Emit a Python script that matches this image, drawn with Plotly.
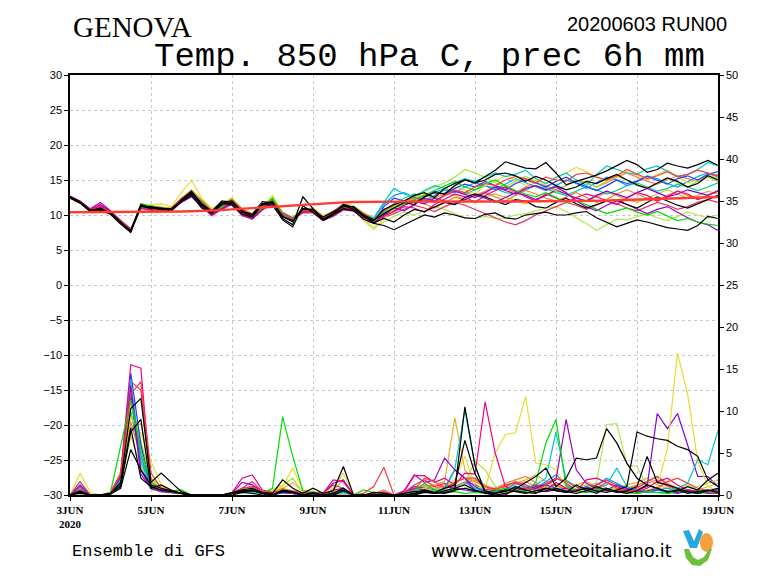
import pandas as pd
import plotly.graph_objects as go

# ---------------- data ----------------
times = pd.date_range("2020-06-03 00:00", periods=65, freq="6h")
tick_dates = ["2020-06-03", "2020-06-05", "2020-06-07", "2020-06-09", "2020-06-11",
              "2020-06-13", "2020-06-15", "2020-06-17", "2020-06-19"]
tick_labels = ["3JUN<br>2020", "5JUN", "7JUN", "9JUN", "11JUN", "13JUN", "15JUN", "17JUN", "19JUN"]
temp_ticks = [-30, -25, -20, -15, -10, -5, 0, 5, 10, 15, 20, 25, 30]
prec_ticks = [0, 5, 10, 15, 20, 25, 30, 35, 40, 45, 50]

# climatology 850 hPa temperature (thick red)
temp_clim = [10.40, 10.40, 10.41, 10.41, 10.42, 10.42, 10.43, 10.43, 10.44,
             10.46, 10.48, 10.50, 10.53, 10.57,
             10.62, 10.70, 10.80, 10.90, 11.00, 11.10, 11.20, 11.30,
             11.40, 11.50, 11.60, 11.68, 11.75, 11.80, 11.85,
             11.88, 11.89, 11.90, 11.90, 11.91, 11.91, 11.90, 11.90, 11.89, 11.89, 11.90,
             11.90, 11.91, 11.91, 11.92, 11.92, 11.93, 11.93, 11.94, 11.94, 11.95, 11.95,
             11.98, 12.02, 12.06, 12.10, 12.14, 12.18, 12.22, 12.26, 12.30, 12.35, 12.40,
             12.46, 12.52, 12.58]

# ensemble members: temperature 850 hPa (C), every 6 h
temp_black1 = [12.6, 11.9, 10.7, 10.8, 10.3, 8.9, 7.6, 11.4, 11.1, 10.8, 10.9, 12.1, 13.2, 11.5, 10.5, 11.7,
               12.0, 10.4, 9.9, 11.6, 11.8, 9.5, 8.6, 12.6, 10.9, 9.4, 10.2, 11.5, 11.1, 9.7, 9.2,
               10.8, 11.5, 12.0, 12.8, 13.2, 12.5, 13.8, 14.5, 15.0, 14.6, 15.5, 16.4, 17.6, 17.2, 16.7, 16.6,
               17.5, 16.0, 14.3, 14.8, 15.2, 15.7, 16.3, 17.0, 17.8, 17.2, 16.1, 16.5, 17.4, 17.0, 16.7, 17.2,
               17.8, 17.1]
temp_black2 = [12.4, 11.7, 10.5, 10.7, 10.1, 8.7, 7.5, 11.2, 11.2, 11.0, 10.7, 11.9, 12.8, 11.0, 10.2, 11.8,
               11.4, 10.1, 9.7, 11.5, 11.4, 9.3, 8.3, 11.3, 10.4, 9.2, 10.0, 10.9, 10.6, 9.4, 8.8,
               8.5, 7.9, 8.6, 9.4, 10.0, 9.7, 10.3, 10.0, 9.6, 9.5, 10.1, 10.3, 9.6, 9.4, 10.0, 10.2,
               10.4, 10.0, 10.0, 10.3, 10.5, 9.6, 8.9, 8.3, 8.8, 9.3, 9.0, 8.6, 8.2, 8.0, 7.8, 8.5,
               9.8, 9.5]
temp_black3 = [12.5, 11.8, 10.6, 11.0, 10.2, 8.9, 7.8, 11.5, 11.0, 10.8, 10.6, 12.2, 13.4, 11.6, 10.5, 12.0,
               11.8, 10.5, 10.1, 11.9, 11.7, 9.8, 9.0, 10.9, 10.7, 9.7, 10.4, 11.2, 11.2, 10.0, 9.3,
               10.2, 11.0, 11.8, 11.5, 12.6, 13.2, 13.0, 14.2, 15.0, 14.6, 15.0, 15.8, 16.0, 15.6, 14.8, 15.5,
               15.0, 14.2, 13.6, 14.0, 14.8, 14.5, 15.2, 15.8, 15.0, 14.3, 13.8, 14.6, 15.3, 14.8, 14.0, 14.5,
               15.6, 15.0]
temp_black4 = [12.6, 11.8, 10.5, 10.8, 10.3, 9.0, 7.7, 11.3, 10.9, 11.0, 10.8, 12.0, 13.1, 11.3, 10.3, 11.5,
               11.7, 10.6, 9.8, 11.6, 11.9, 9.7, 9.2, 10.8, 10.8, 9.3, 10.1, 11.4, 10.8, 9.9, 8.9,
               9.5, 9.0, 10.0, 10.8, 10.5, 11.2, 11.8, 11.5, 12.5, 13.0, 12.6, 12.0, 11.5, 12.2, 12.0, 11.2,
               11.0, 11.8, 12.4, 11.6, 11.0, 11.5, 12.0, 12.2, 11.5, 11.0, 11.8, 12.6, 12.0, 11.4, 11.0, 11.6,
               12.2, 12.8]
temp_red = [12.5, 11.9, 10.7, 11.1, 10.4, 9.1, 7.9, 11.1, 10.9, 10.7, 10.9, 12.4, 13.3, 11.8, 10.6, 11.4,
            12.1, 10.8, 10.1, 11.3, 12.0, 10.1, 9.4, 10.6, 10.8, 9.6, 10.6, 11.5, 11.0, 10.1, 9.3,
            10.6, 11.4, 12.0, 12.5, 12.2, 11.8, 12.8, 13.5, 13.2, 14.0, 14.5, 14.2, 15.0, 15.5, 15.2, 14.6,
            15.4, 15.0, 14.8, 15.8, 16.0, 15.4, 15.0, 15.6, 16.5, 15.8, 15.2, 15.6, 16.2, 15.5, 15.8, 16.4,
            16.0, 15.6]
temp_green = [12.4, 11.7, 10.6, 10.9, 10.1, 8.8, 7.8, 11.6, 11.3, 11.0, 10.9, 12.2, 12.9, 12.0, 10.5, 11.1,
              12.2, 10.7, 10.0, 11.0, 12.4, 10.2, 9.5, 10.9, 10.6, 9.7, 10.3, 11.1, 11.2, 10.2, 9.1,
              10.4, 11.0, 11.5, 12.2, 12.8, 13.5, 14.2, 14.8, 14.0, 13.6, 14.5, 15.0, 14.2, 13.5, 13.0, 12.6,
              13.2, 12.5, 11.8, 12.0, 11.5, 10.8, 10.2, 10.6, 11.0, 10.4, 10.0, 10.5, 9.8, 9.2, 9.5, 9.0,
              8.7, 8.5]
temp_blue = [12.6, 11.8, 10.7, 10.8, 10.2, 8.9, 7.7, 11.2, 11.0, 10.9, 10.7, 12.1, 13.1, 11.7, 10.4, 11.3,
             12.0, 10.5, 9.9, 11.4, 12.2, 9.9, 9.2, 10.7, 10.5, 9.5, 10.1, 11.2, 10.9, 9.9, 8.9,
             11.2, 12.4, 12.0, 11.8, 12.5, 13.4, 13.0, 13.8, 14.4, 14.0, 14.8, 14.2, 13.6, 14.5, 15.0, 14.6,
             14.0, 14.8, 15.4, 14.6, 14.0, 13.5, 14.2, 15.0, 14.5, 14.8, 15.5, 15.0, 14.4, 15.2, 15.6, 15.0,
             15.8, 16.2]
temp_cyan = [12.5, 11.8, 10.6, 10.9, 10.3, 9.0, 7.8, 11.3, 11.1, 11.0, 10.8, 12.0, 12.9, 11.9, 10.6, 11.2,
             11.9, 10.6, 10.0, 11.2, 12.3, 10.0, 9.3, 10.8, 10.6, 9.6, 10.2, 11.3, 11.0, 10.0, 9.6,
             11.8, 13.8, 13.0, 12.6, 13.5, 14.2, 13.8, 14.6, 15.2, 14.8, 15.4, 16.0, 15.5, 15.8, 16.4, 15.2,
             14.5, 15.4, 16.0, 15.0, 14.2, 15.8, 17.0, 16.5, 16.0, 15.8, 16.6, 17.0, 16.2, 15.5, 15.8, 16.5,
             17.5, 17.0]
temp_magenta = [12.6, 11.9, 10.8, 11.4, 10.4, 9.0, 7.8, 11.0, 10.8, 10.6, 10.7, 12.0, 12.8, 11.5, 10.2, 11.0,
                11.8, 10.2, 9.7, 11.0, 11.9, 10.3, 9.6, 10.5, 10.4, 9.4, 10.0, 11.0, 10.8, 9.6, 8.8,
                9.8, 10.5, 11.2, 11.0, 10.4, 11.5, 12.2, 13.0, 12.6, 11.8, 12.8, 13.5, 14.0, 13.4, 12.6, 12.0,
                13.0, 12.4, 11.8, 12.5, 13.0, 12.6, 12.0, 11.5, 12.4, 13.2, 12.8, 12.0, 12.6, 13.4, 13.0, 12.2,
                12.8, 13.5]
temp_yellow = [12.4, 11.7, 10.5, 10.8, 10.1, 8.7, 7.9, 11.0, 11.5, 11.6, 11.2, 13.2, 15.0, 12.4, 10.9, 11.6,
               12.5, 10.6, 9.6, 11.0, 12.8, 10.4, 9.5, 10.5, 10.8, 9.8, 10.5, 11.4, 11.3, 9.2, 7.9,
               9.5, 10.8, 11.6, 12.4, 13.0, 12.5, 13.2, 14.0, 13.6, 13.0, 14.2, 14.8, 15.6, 15.0, 14.2, 15.0,
               14.4, 15.2, 16.0, 16.8, 16.2, 15.4, 14.8, 15.5, 16.2, 15.6, 15.0, 15.8, 16.4, 15.5, 14.6, 15.0,
               15.8, 15.2]
temp_orange = [12.5, 11.8, 10.6, 10.9, 10.2, 8.9, 7.9, 11.1, 11.2, 11.1, 10.9, 12.3, 13.5, 12.0, 10.8, 11.5,
               12.3, 10.8, 10.2, 11.5, 12.1, 10.1, 9.4, 10.8, 10.9, 9.8, 10.4, 11.5, 11.2, 10.2, 9.4,
               10.0, 10.8, 11.4, 12.0, 11.6, 11.0, 11.8, 12.5, 12.2, 12.8, 13.2, 12.6, 12.0, 12.8, 13.5, 13.0,
               12.4, 12.0, 12.6, 13.2, 12.5, 11.8, 12.2, 13.0, 13.6, 13.0, 12.4, 12.0, 12.8, 13.4, 12.8, 12.2,
               12.8, 13.4]
temp_purple = [12.7, 12.0, 10.9, 11.8, 10.6, 9.2, 8.0, 11.0, 10.7, 10.5, 10.6, 11.8, 12.6, 11.3, 10.0, 10.9,
               11.6, 10.0, 9.5, 10.8, 11.7, 10.1, 9.4, 10.4, 10.5, 9.3, 9.9, 10.8, 10.7, 9.8, 9.0,
               10.2, 11.0, 10.6, 11.5, 12.4, 12.0, 12.8, 13.4, 13.0, 12.5, 13.2, 14.0, 13.5, 13.0, 13.8, 14.2,
               13.6, 14.0, 13.2, 12.0, 11.2, 10.6, 11.4, 12.0, 11.5, 10.8, 10.2, 10.8, 11.2, 10.4, 9.6, 9.0,
               8.6, 7.8]
temp_yg1 = [12.5, 11.8, 10.6, 10.9, 10.2, 8.8, 7.6, 11.4, 11.1, 10.9, 10.8, 12.0, 13.0, 11.8, 10.5, 11.3,
            12.1, 10.7, 10.0, 11.2, 12.3, 10.1, 9.3, 10.8, 10.6, 9.6, 10.1, 11.2, 11.0, 9.9, 9.1,
            10.4, 11.2, 12.0, 12.6, 13.4, 14.0, 14.6, 15.4, 16.5, 16.0, 15.4, 14.6, 14.0, 14.8, 15.5, 14.8,
            14.0, 13.5, 14.2, 15.0, 14.6, 14.0, 14.8, 15.6, 15.0, 14.2, 13.8, 14.5, 15.2, 14.6, 14.0, 14.8,
            15.4, 14.8]
temp_yg2 = [12.4, 11.7, 10.5, 10.8, 10.1, 8.8, 7.7, 11.3, 11.0, 10.8, 10.7, 11.9, 12.9, 11.6, 10.3, 11.1,
            11.9, 10.5, 9.8, 11.1, 12.1, 9.9, 9.2, 10.6, 10.5, 9.4, 10.0, 11.0, 10.9, 9.5, 8.2,
            9.0, 9.8, 10.4, 10.0, 10.6, 11.2, 10.8, 10.2, 9.6, 9.5, 9.8, 9.5, 9.6, 10.0, 10.2, 10.6,
            11.0, 11.2, 10.5, 9.6, 8.8, 7.8, 8.6, 9.4, 9.3, 9.8, 10.2, 9.6, 9.2, 9.8, 10.4, 10.0,
            9.6, 10.0]
temp_medblue = [12.5, 11.8, 10.7, 10.9, 10.3, 8.9, 7.8, 11.2, 11.0, 10.9, 10.8, 12.1, 13.2, 11.9, 10.6, 11.4,
                12.0, 10.6, 10.0, 11.3, 12.2, 10.0, 9.4, 10.8, 10.7, 9.6, 10.3, 11.3, 11.1, 10.1, 9.5,
                11.5, 12.8, 13.2, 12.5, 12.0, 12.8, 13.6, 13.2, 14.0, 14.6, 14.2, 13.6, 14.4, 15.2, 14.6, 14.0,
                13.5, 14.2, 15.0, 14.5, 13.8, 14.6, 15.4, 15.0, 14.2, 14.8, 15.6, 15.2, 14.5, 14.0, 14.8, 15.5,
                16.0, 15.4]
temp_darkyellow = [12.6, 11.9, 10.7, 11.0, 10.4, 9.1, 8.0, 11.1, 11.3, 11.2, 11.0, 12.4, 13.6, 12.2, 10.9, 11.6,
                   12.4, 10.9, 10.1, 11.5, 12.5, 10.3, 9.6, 10.9, 11.0, 9.9, 10.5, 11.6, 11.3, 10.3, 9.6,
                   10.8, 11.2, 11.8, 12.4, 12.0, 12.6, 13.2, 12.8, 12.2, 12.0, 12.6, 13.0, 12.5, 12.0, 11.6, 12.2,
                   12.8, 13.4, 13.0, 12.4, 12.0, 12.6, 13.2, 12.8, 12.2, 11.8, 12.4, 13.0, 13.6, 13.0, 12.4, 12.8,
                   13.4, 13.0]
temp_aqua = [12.5, 11.8, 10.6, 10.8, 10.2, 8.8, 7.7, 11.3, 11.0, 10.8, 10.7, 12.0, 12.9, 11.7, 10.4, 11.2,
             12.0, 10.6, 9.9, 11.2, 12.2, 9.9, 9.2, 10.7, 10.6, 9.5, 10.2, 11.2, 11.0, 10.0, 9.2,
             10.6, 11.6, 12.4, 13.0, 12.6, 13.2, 13.8, 13.4, 13.0, 13.6, 14.2, 13.8, 13.2, 13.0, 13.6, 14.2,
             13.8, 13.2, 12.8, 13.4, 14.0, 13.6, 13.0, 13.5, 14.2, 14.6, 14.0, 13.4, 13.8, 14.4, 14.0, 13.5,
             14.0, 14.6]
temp_pink = [12.6, 11.9, 10.8, 11.2, 10.5, 9.2, 8.0, 10.9, 10.7, 10.5, 10.6, 11.9, 12.7, 11.2, 9.9, 10.8,
             11.5, 9.9, 9.4, 10.7, 11.6, 10.2, 9.5, 10.3, 10.3, 9.2, 9.8, 10.7, 10.6, 9.7, 8.9,
             9.6, 10.2, 10.8, 11.4, 11.0, 10.5, 11.2, 11.8, 11.4, 10.8, 10.2, 9.5, 9.0, 8.6, 9.2, 10.0,
             10.6, 11.2, 11.8, 11.4, 10.8, 11.4, 12.0, 11.6, 11.0, 10.6, 11.2, 11.8, 11.4, 10.8, 11.2, 11.8,
             12.2, 11.8]
temp_darkpurple = [12.6, 11.8, 10.7, 11.5, 10.5, 9.1, 7.9, 11.0, 10.8, 10.6, 10.6, 11.9, 12.7, 11.4, 10.1, 11.0,
                   11.7, 10.2, 9.6, 10.9, 11.8, 10.2, 9.5, 10.5, 10.5, 9.4, 10.0, 11.0, 10.8, 9.7, 9.0,
                   10.0, 10.6, 11.4, 12.0, 11.6, 12.4, 12.0, 11.5, 12.2, 12.8, 12.4, 11.8, 12.5, 13.2, 12.8, 12.2,
                   12.8, 13.6, 13.0, 12.4, 12.0, 12.8, 13.4, 13.0, 12.5, 13.2, 13.8, 13.2, 12.6, 13.0, 13.6, 13.2,
                   12.8, 13.4]
temp_salmon = [12.5, 11.8, 10.6, 10.9, 10.3, 8.9, 7.8, 11.2, 11.1, 11.0, 10.9, 12.2, 13.2, 11.8, 10.5, 11.4,
               12.2, 10.7, 10.0, 11.4, 12.1, 10.0, 9.3, 10.7, 10.7, 9.7, 10.3, 11.4, 11.1, 10.1, 9.4,
               10.4, 11.0, 11.6, 12.2, 12.8, 12.4, 13.0, 13.6, 13.2, 12.8, 13.4, 14.2, 13.8, 13.2, 14.0, 14.6,
               14.2, 13.6, 14.2, 15.0, 14.6, 14.0, 14.6, 15.4, 16.0, 15.4, 14.8, 14.4, 15.0, 15.6, 15.2, 14.8,
               15.4, 15.8]

# ensemble members: 6 h precipitation (mm), same time steps
prec_black1 = [0, 0.5, 0, 0, 0.2, 1.5, 10.3, 11.5,
               1.5, 2.6, 1.5, 0.4, 0, 0, 0, 0,
               0.3, 0.6, 0.8, 0.3, 0.2, 1.8, 0.8, 0.2,
               0.8, 0.2, 0.5, 3.4, 0, 0, 0.3, 0.2,
               0, 0.2, 0.4, 0.5, 0.3, 0.2, 0.5, 10.5,
               3.5, 0.3, 0, 0.2, 0.5, 0.3, 0.2, 0.8,
               0.5, 0.3, 1.2, 0.6, 0.2, 0.8, 0.4, 0.2,
               0.5, 1.2, 0.8, 0.3, 0.6, 0.2, 0.4, 0.6,
               0.3]
prec_black2 = [0, 0.3, 0, 0, 0.1, 0.8, 5.4, 3.0,
               1.2, 0.8, 0.5, 0.2, 0, 0, 0, 0,
               0.2, 0.4, 0.5, 0.2, 0, 0.6, 0.4, 0,
               0.2, 0, 0, 0.6, 0, 0, 0, 0,
               0, 0, 0.2, 0.6, 0.3, 0.8, 1.2, 6.5,
               2.5, 0.5, 0.2, 0.4, 1.0, 0.6, 0.3, 0.5,
               0.8, 0.4, 0.2, 0.5, 1.0, 0.6, 0.3, 0.5,
               1.0, 4.6, 1.5, 1.2, 0.8, 0.4, 0.2, 0.5,
               0.8]
prec_black3 = [0, 0.2, 0, 0, 0.2, 1.0, 7.5, 9.0,
               0.8, 1.2, 0.6, 0.2, 0, 0, 0, 0,
               0, 0.3, 0.2, 0, 0, 0.4, 0.3, 0,
               0, 0, 0, 0.5, 0, 0, 0, 0,
               0, 0, 0, 0.3, 0.2, 0.5, 0.8, 1.2,
               0.6, 0.2, 0, 0, 0.8, 1.5, 2.2, 3.2,
               1.0, 2.0, 4.4, 4.2, 4.4, 7.9, 6.2, 3.8,
               2.0, 1.2, 0.8, 0.4, 0.5, 1.0, 0.6, 1.8,
               2.6]
prec_black4 = [0, 0.4, 0, 0, 0.1, 1.2, 8.0, 2.0,
               1.0, 0.6, 0.4, 0.2, 0, 0, 0, 0,
               0.2, 0.5, 0.6, 0.2, 0, 0.5, 0.3, 0,
               0.3, 0, 0.2, 0.8, 0, 0, 0, 0,
               0, 0, 0.1, 0.4, 0.2, 0.3, 0.6, 0.8,
               0.5, 0.3, 0.2, 0.6, 0.4, 0.2, 0.5, 0.8,
               0.6, 0.3, 0.5, 0.8, 0.5, 0.3, 0.6, 1.0,
               7.5, 7.0, 6.7, 6.5, 5.8, 5.4, 4.6, 1.8,
               1.0]
prec_red = [0, 0.6, 0, 0, 0.2, 2.5, 12.0, 13.5,
            2.6, 0.8, 0.4, 0.2, 0, 0, 0, 0,
            0.3, 0.8, 1.0, 0.4, 0.2, 0.5, 0.3, 0.2,
            0.2, 0.3, 0, 0, 0, 0.2, 1.0, 3.3,
            0, 0.3, 0.6, 2.0, 1.6, 0.8, 1.5, 2.0,
            2.0, 1.0, 0.6, 1.2, 1.5, 0.8, 0.6, 1.2,
            2.0, 1.6, 1.0, 0.6, 0.8, 1.5, 0.8, 0.4,
            0.6, 1.2, 0.8, 1.6, 2.0, 1.4, 0.8, 0.5,
            0.3]
prec_green = [0, 0.4, 0, 0, 0.3, 6.0, 11.3, 5.3,
              1.5, 0.8, 0.5, 0.6, 0, 0, 0, 0,
              0.2, 0.4, 0.5, 0.2, 0.8, 9.3, 4.6, 0.5,
              0.3, 0, 0.2, 0.6, 0, 0.6, 0.3, 0,
              0, 0.2, 0.5, 1.4, 0.6, 0.3, 0.4, 0.2,
              0.3, 0.2, 0.5, 0.8, 0.6, 0.4, 1.5, 6.2,
              9.0, 1.0, 0.5, 0.3, 0.6, 0.8, 0.4, 0.3,
              0.2, 0.4, 0.3, 0.2, 0.5, 0.3, 0.2, 0.4,
              0.3]
prec_blue = [0, 1.2, 0, 0, 0.2, 2.0, 14.5, 6.0,
             0.8, 0.5, 0.3, 0.2, 0, 0, 0, 0,
             0.2, 0.5, 0.6, 0.3, 0, 0.3, 0.2, 0,
             0.2, 0, 0.3, 0.4, 0, 0, 0, 0,
             0, 0.2, 0.8, 0.6, 0.4, 0.8, 3.0, 2.0,
             1.0, 0.4, 0.2, 0.6, 0.8, 0.5, 0.8, 1.2,
             0.8, 0.5, 0.6, 1.0, 0.4, 0.6, 1.2, 0.8,
             0.5, 0.3, 0.6, 0.4, 0.2, 0.5, 0.3, 0.4,
             0.6]
prec_cyan = [0, 0.8, 0, 0, 0.2, 1.8, 13.7, 4.0,
             1.0, 0.6, 0.3, 0.2, 0, 0, 0, 0,
             0.2, 0.3, 0.4, 0.2, 0, 0.4, 0.2, 0,
             0.2, 0, 0, 0.3, 0, 0, 0, 0,
             0, 0.1, 0.3, 0.5, 0.4, 0.6, 3.0, 10.1,
             3.5, 0.5, 0.3, 0.6, 1.0, 0.8, 1.2, 2.0,
             7.5, 1.8, 1.0, 0.5, 0.8, 1.2, 3.2, 1.0,
             0.6, 0.4, 0.3, 0.5, 0.8, 1.4, 4.2, 3.6,
             7.7]
prec_magenta = [0, 1.0, 0, 0, 0.3, 2.5, 15.5, 15.1,
                1.0, 0.6, 0.4, 0.2, 0, 0, 0, 0,
                0.3, 2.0, 2.4, 0.6, 0.3, 0.5, 0.4, 0.2,
                0.3, 0.2, 1.8, 1.6, 0, 0, 0.2, 0.3,
                0, 0.4, 2.3, 2.3, 1.5, 2.0, 1.2, 2.6,
                2.5, 11.1, 5.0, 1.0, 0.5, 0.8, 1.2, 0.6,
                1.5, 0.8, 0.4, 1.8, 2.0, 1.5, 1.0, 0.6,
                0.4, 0.8, 1.6, 2.0, 1.2, 0.6, 0.4, 0.3,
                0.2]
prec_yellow = [0, 2.6, 0.3, 0, 0.3, 2.0, 9.3, 7.3,
               4.0, 1.2, 0.6, 0.3, 0, 0, 0, 0,
               0.2, 0.6, 0.8, 0.4, 0.5, 1.0, 3.2, 0.6,
               0.4, 0.2, 0.8, 2.6, 0, 0, 0.3, 0.2,
               0, 0.3, 0.6, 0.8, 0.5, 1.0, 1.8, 4.6,
               1.0, 0.8, 5.0, 7.2, 7.4, 11.7, 3.8, 3.6,
               3.0, 1.0, 0.4, 0.6, 0.8, 0.5, 1.0, 0.6,
               0.4, 0.3, 1.0, 5.5, 16.9, 12.0, 4.0, 1.0,
               0.5]
prec_orange = [0, 0.4, 0, 0, 0.2, 1.5, 8.7, 4.5,
               1.0, 0.5, 0.3, 0.2, 0, 0, 0, 0,
               0.2, 0.5, 0.6, 0.2, 0.3, 0.8, 0.5, 0.2,
               0.2, 0, 0.4, 0.8, 0, 0, 0.2, 0.4,
               0, 0.2, 0.8, 1.2, 1.0, 0.6, 1.5, 2.0,
               1.6, 1.0, 0.8, 1.4, 1.8, 2.2, 1.5, 0.8,
               1.2, 0.6, 0.4, 0.8, 1.0, 0.6, 0.5, 0.8,
               1.2, 1.6, 2.2, 1.4, 0.8, 0.5, 0.3, 0.4,
               0.6]
prec_purple = [0, 0.5, 0, 0, 0.2, 2.2, 13.0, 3.0,
               0.8, 0.5, 0.3, 0.2, 0, 0, 0, 0,
               0.2, 1.5, 1.2, 0.4, 0.2, 0.3, 0.2, 0,
               0.3, 0.2, 1.4, 1.8, 0, 0, 0, 0,
               0, 0.5, 2.4, 1.5, 1.8, 4.4, 3.0, 2.0,
               0.5, 0.3, 0.6, 0.4, 0.8, 0.6, 1.0, 1.2,
               1.8, 9.0, 3.0, 1.4, 0.8, 0.5, 0.4, 0.6,
               0.3, 0.5, 0.8, 0.4, 0.3, 0.6, 0.4, 0.2,
               0.3]
prec_yg1 = [0, 0.6, 0, 0, 0.2, 2.8, 11.0, 6.5,
            1.8, 0.8, 0.4, 0.3, 0, 0, 0, 0,
            0.2, 0.4, 0.5, 0.3, 0.6, 1.2, 2.0, 0.3,
            0.2, 0, 0.3, 0.5, 0, 0, 0, 0.2,
            0, 0.2, 0.4, 0.6, 0.8, 0.5, 0.8, 1.5,
            4.0, 3.0, 1.0, 0.6, 0.8, 0.4, 0.6, 1.0,
            0.6, 0.4, 0.8, 1.2, 0.6, 0.4, 0.8, 0.6,
            0.4, 0.6, 0.8, 0.5, 0.3, 0.6, 1.0, 1.4,
            1.8]
prec_yg2 = [0, 0.3, 0, 0, 0.1, 1.2, 7.0, 3.5,
            0.6, 0.4, 0.2, 0.1, 0, 0, 0, 0,
            0.2, 0.3, 0.4, 0.2, 0.3, 0.6, 0.5, 0.2,
            0.2, 0, 0.2, 0.4, 0, 0, 0, 0,
            0, 0.1, 0.3, 0.5, 0.4, 0.6, 0.5, 0.8,
            1.2, 0.8, 0.6, 0.4, 0.6, 0.8, 1.0, 0.6,
            0.8, 0.5, 0.6, 0.6, 1.5, 8.4, 8.5, 3.6,
            3.4, 1.0, 0.6, 0.4, 0.8, 1.2, 0.6, 0.3,
            0.5]
prec_medblue = [0, 0.6, 0, 0, 0.2, 1.6, 12.5, 4.8,
                0.8, 0.5, 0.3, 0.2, 0, 0, 0, 0,
                0.2, 0.4, 0.5, 0.2, 0, 0.3, 0.2, 0,
                0.2, 0, 0.2, 0.3, 0, 0, 0, 0,
                0, 0.1, 0.5, 0.8, 0.6, 0.4, 1.0, 1.5,
                0.8, 0.5, 0.4, 0.6, 1.4, 1.0, 0.8, 1.6,
                2.4, 1.2, 0.6, 0.8, 1.2, 2.0, 1.4, 0.8,
                0.5, 0.4, 0.6, 0.8, 0.4, 0.3, 0.5, 0.4,
                0.2]
prec_darkyellow = [0, 0.8, 0, 0, 0.2, 1.8, 8.0, 8.5,
                   2.0, 1.0, 0.5, 0.3, 0, 0, 0, 0,
                   0.2, 0.5, 0.6, 0.3, 0.4, 0.8, 1.5, 0.4,
                   0.3, 0.2, 0.6, 1.8, 0, 0, 0.2, 0.3,
                   0, 0.3, 0.8, 1.0, 1.2, 1.6, 9.2, 3.0,
                   1.2, 0.8, 0.6, 1.0, 1.4, 1.8, 2.4, 1.6,
                   1.0, 0.8, 1.2, 1.6, 1.0, 0.6, 0.8, 1.2,
                   1.5, 2.0, 1.2, 0.8, 0.6, 0.4, 0.6, 1.0,
                   1.4]
prec_aqua = [0, 0.4, 0, 0, 0.2, 1.4, 10.0, 4.0,
             0.8, 0.4, 0.3, 0.2, 0, 0, 0, 0,
             0.2, 0.3, 0.4, 0.2, 0, 0.3, 0.2, 0,
             0.2, 0, 0, 0.3, 0, 0, 0, 0,
             0, 0.1, 0.2, 0.4, 0.3, 0.5, 0.6, 0.8,
             0.6, 0.4, 0.3, 0.5, 0.6, 0.4, 0.8, 1.0,
             0.6, 0.4, 0.5, 0.3, 0.4, 0.6, 0.5, 0.3,
             0.2, 0.4, 0.3, 0.2, 0.3, 0.4, 0.2, 0.3,
             0.2]
prec_pink = [0, 1.6, 0, 0, 0.3, 2.4, 13.5, 12.5,
             1.5, 0.8, 0.4, 0.2, 0, 0, 0, 0,
             0.2, 0.8, 1.6, 0.4, 0.2, 0.4, 0.3, 0,
             0.3, 0.2, 1.2, 0.8, 0, 0, 0.2, 0.3,
             0, 0.3, 1.2, 1.8, 1.0, 1.4, 0.8, 1.6,
             1.2, 0.6, 0.8, 1.0, 1.6, 1.2, 0.8, 1.4,
             2.0, 1.4, 0.6, 0.8, 1.2, 1.8, 1.2, 0.6,
             0.8, 1.6, 2.2, 1.2, 0.6, 0.4, 0.3, 0.5,
             0.4]
prec_darkpurple = [0, 0.4, 0, 0, 0.2, 2.0, 12.0, 2.5,
                   0.8, 0.4, 0.3, 0.2, 0, 0, 0, 0,
                   0.2, 0.8, 1.0, 0.3, 0.2, 0.3, 0.2, 0,
                   0.2, 0, 0.6, 0.8, 0, 0, 0, 0,
                   0, 0.3, 1.0, 0.8, 0.6, 1.0, 0.8, 0.6,
                   0.4, 0.3, 0.5, 0.6, 0.8, 0.5, 0.6, 0.4,
                   0.6, 0.8, 0.5, 0.4, 0.6, 0.8, 0.5, 0.4,
                   0.6, 1.0, 9.7, 7.9, 9.7, 5.8, 2.2, 2.2,
                   1.0]
prec_salmon = [0, 0.5, 0, 0, 0.2, 1.6, 9.5, 6.0,
               1.2, 0.6, 0.3, 0.2, 0, 0, 0, 0,
               0.2, 0.4, 0.5, 0.2, 0.2, 0.5, 0.3, 0,
               0.2, 0, 0.3, 0.5, 0, 0, 0.2, 0.6,
               0, 0.2, 0.6, 1.0, 0.8, 1.2, 1.0, 1.4,
               1.8, 1.2, 0.6, 0.8, 1.2, 1.6, 1.0, 0.8,
               1.2, 0.8, 0.6, 1.0, 1.4, 0.8, 0.6, 0.8,
               1.0, 1.4, 1.8, 1.0, 0.6, 0.4, 0.3, 0.5,
               0.4]

# member colour + series (coloured members first, black members drawn on top)
members = [
    ("#fa7864", temp_salmon, prec_salmon),
    ("#e6af2d", temp_darkyellow, prec_darkyellow),
    ("#00d28c", temp_aqua, prec_aqua),
    ("#b4e650", temp_yg2, prec_yg2),
    ("#f08228", temp_orange, prec_orange),
    ("#00a0ff", temp_medblue, prec_medblue),
    ("#8200dc", temp_darkpurple, prec_darkpurple),
    ("#e6325a", temp_pink, prec_pink),
    ("#a0e632", temp_yg1, prec_yg1),
    ("#e6dc32", temp_yellow, prec_yellow),
    ("#1e3cff", temp_blue, prec_blue),
    ("#00c8c8", temp_cyan, prec_cyan),
    ("#a000c8", temp_purple, prec_purple),
    ("#f00082", temp_magenta, prec_magenta),
    ("#00dc00", temp_green, prec_green),
    ("#fa3c3c", temp_red, prec_red),
    ("#000000", temp_black4, prec_black4),
    ("#000000", temp_black3, prec_black3),
    ("#000000", temp_black2, prec_black2),
    ("#000000", temp_black1, prec_black1),
]

for _c, _t, _p in members:
    assert len(_t) == 65 and len(_p) == 65
assert len(temp_clim) == 65

# ---------------- figure ----------------
fig = go.Figure()

for color, t, p in members:
    fig.add_trace(go.Scatter(x=times, y=p, yaxis="y2", mode="lines",
                             line=dict(color=color, width=1.2), hoverinfo="skip",
                             showlegend=False))
for color, t, p in members:
    fig.add_trace(go.Scatter(x=times, y=t, mode="lines",
                             line=dict(color=color, width=1.2), hoverinfo="skip",
                             showlegend=False))
fig.add_trace(go.Scatter(x=times, y=temp_clim, mode="lines",
                         line=dict(color="#ff3c32", width=2.4), hoverinfo="skip",
                         showlegend=False))

# target plot area in window pixels (page body adds an 8 px offset)
L, R, T, B = 70, 718, 75, 495
OFF = 8
FIG_W, FIG_H = 768 - OFF, 576 - OFF


def px(x):
    return (x - L) / (R - L)


def py(y):
    return (B - y) / (B - T)


tickfont = dict(family="Liberation Sans, Arial, sans-serif", size=11, color="#000")

fig.update_layout(
    width=FIG_W, height=FIG_H,
    margin=dict(l=L - OFF, r=FIG_W - (R - OFF), t=T - OFF, b=FIG_H - (B - OFF), pad=0),
    paper_bgcolor="white", plot_bgcolor="white",
    xaxis=dict(
        range=["2020-06-03 00:00", "2020-06-19 00:00"],
        tickmode="array", tickvals=tick_dates,
        ticktext=[f"<b>{t}</b>" for t in tick_labels],
        tickfont=dict(family="Liberation Serif, serif", size=11, color="#000"),
        ticks="outside", ticklen=4, tickcolor="#000",
        showline=True, linecolor="#000", linewidth=1.5, mirror=True,
        showgrid=True, gridcolor="#c8c8c8", griddash="dot", gridwidth=1,
        zeroline=False,
    ),
    yaxis=dict(
        range=[-30, 30], tickmode="array", tickvals=temp_ticks,
        tickfont=tickfont, ticks="outside", ticklen=4, tickcolor="#000",
        showline=True, linecolor="#000", linewidth=1.5,
        showgrid=True, gridcolor="#c8c8c8", griddash="dot", gridwidth=1,
        zeroline=False,
    ),
    yaxis2=dict(
        range=[0, 50], tickmode="array", tickvals=prec_ticks,
        overlaying="y", side="right",
        tickfont=tickfont, ticks="outside", ticklen=4, tickcolor="#000",
        showline=True, linecolor="#000", linewidth=1.5,
        showgrid=False, zeroline=False,
    ),
)

annotations = [
    dict(text="GENOVA", x=px(71), y=py(27), xanchor="left", yanchor="middle",
         font=dict(family="Liberation Serif, serif", size=29, color="#000")),
    dict(text="20200603 RUN00", x=px(729), y=py(24), xanchor="right", yanchor="middle",
         font=dict(family="Liberation Sans, sans-serif", size=20, color="#000")),
    dict(text="Temp. 850 hPa C, prec 6h mm", x=px(429), y=py(57), xanchor="center", yanchor="middle",
         font=dict(family="Liberation Mono, monospace", size=34, color="#000")),
    dict(text="Ensemble di GFS", x=px(70), y=py(551), xanchor="left", yanchor="middle",
         font=dict(family="Liberation Mono, monospace", size=17, color="#000")),
    dict(text="www.centrometeoitaliano.it", x=px(674), y=py(551), xanchor="right", yanchor="middle",
         font=dict(family="DejaVu Sans, sans-serif", size=17.5, color="#000")),
]
for a in annotations:
    a.update(xref="paper", yref="paper", showarrow=False)
fig.update_layout(annotations=annotations)


def path(points):
    return "M " + " L ".join(f"{px(x):.4f},{py(y):.4f}" for x, y in points) + " Z"


shapes = [
    dict(type="path", path=path([(683, 531), (689, 530), (694, 541), (699, 529), (703, 532),
                                 (697, 548), (690, 548)]),
         fillcolor="#29a8e0", line=dict(width=0)),
    dict(type="circle", x0=px(700), x1=px(713), y0=py(552), y1=py(533),
         fillcolor="#f5a03c", line=dict(width=0)),
    dict(type="path", path=path([(684, 549), (689, 549), (693, 557), (698, 560), (704, 557),
                                 (709, 549), (712, 549), (708, 560), (700, 566), (692, 565),
                                 (686, 558)]),
         fillcolor="#6cbf3c", line=dict(width=0)),
]
for s in shapes:
    s.update(xref="paper", yref="paper", layer="above")
fig.update_layout(shapes=shapes)

fig.write_html("out.html")
